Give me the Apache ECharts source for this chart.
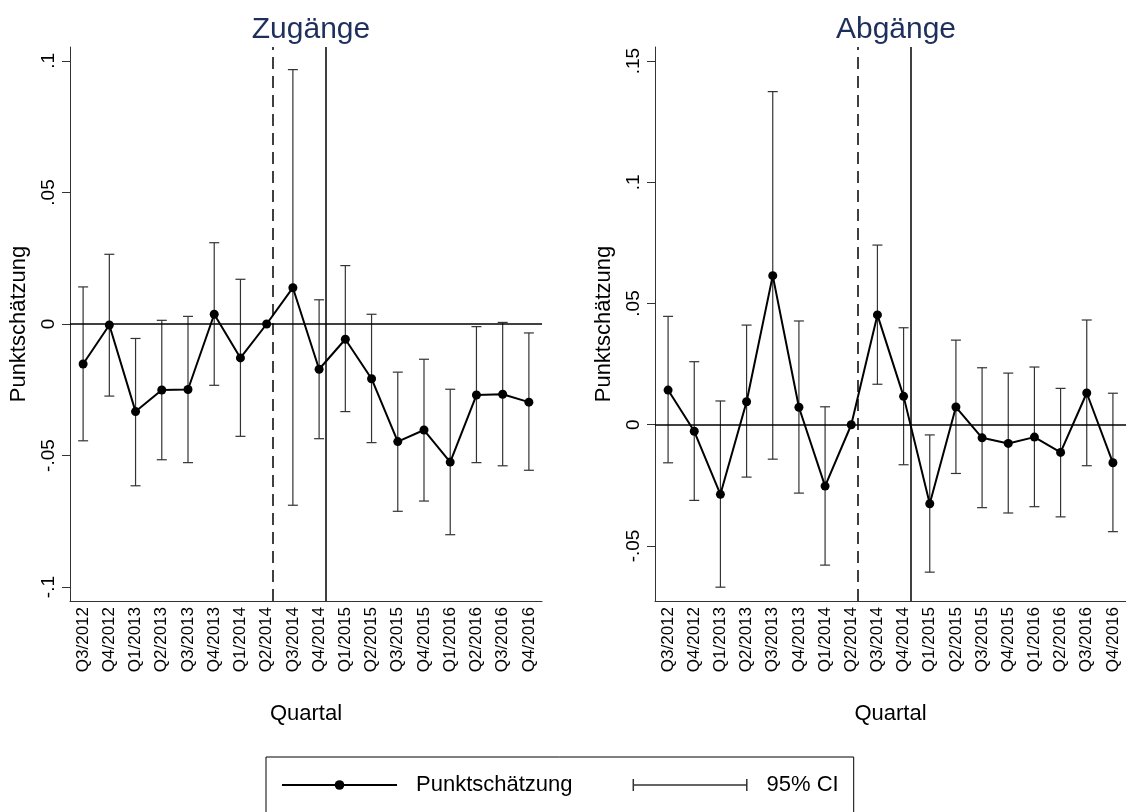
<!DOCTYPE html>
<html><head><meta charset="utf-8">
<script src="https://cdn.jsdelivr.net/npm/echarts@6/dist/echarts.min.js"></script>
<style>html,body{margin:0;padding:0;background:#fff}#c{width:1126px;height:812px}</style>
</head><body><div id="c"></div>
<script>
const quarters = ["Q3/2012","Q4/2012","Q1/2013","Q2/2013","Q3/2013","Q4/2013","Q1/2014","Q2/2014","Q3/2014","Q4/2014","Q1/2015","Q2/2015","Q3/2015","Q4/2015","Q1/2016","Q2/2016","Q3/2016","Q4/2016"];

const zugPoint = [-0.0152,-0.0004,-0.0333,-0.0251,-0.0249,0.0037,-0.0129,0,0.0138,-0.0172,-0.0058,-0.0208,-0.0447,-0.0403,-0.0525,-0.0270,-0.0267,-0.0297];
const zugHigh  = [0.0141,0.0265,-0.0055,0.0014,0.0029,0.0309,0.0170,null,0.0967,0.0092,0.0222,0.0037,-0.0183,-0.0134,-0.0248,-0.0010,0.0006,-0.0034];
const zugLow   = [-0.0444,-0.0274,-0.0615,-0.0516,-0.0527,-0.0233,-0.0427,null,-0.0689,-0.0436,-0.0333,-0.0451,-0.0712,-0.0673,-0.0801,-0.0527,-0.0539,-0.0556];

const abgPoint = [0.0143,-0.0027,-0.0287,0.0095,0.0615,0.0072,-0.0253,0,0.0453,0.0117,-0.0326,0.0073,-0.0054,-0.0077,-0.0051,-0.0114,0.0131,-0.0157];
const abgHigh  = [0.0447,0.0260,0.0098,0.0411,0.1374,0.0428,0.0074,null,0.0741,0.0400,-0.0042,0.0349,0.0235,0.0213,0.0238,0.0150,0.0432,0.0130];
const abgLow   = [-0.0157,-0.0312,-0.0670,-0.0216,-0.0142,-0.0282,-0.0579,null,0.0167,-0.0165,-0.0608,-0.0201,-0.0342,-0.0364,-0.0338,-0.0380,-0.0169,-0.0441];

const zugTicks = [-0.1,-0.05,0,0.05,0.1];
const zugTickLabels = ["-.1","-.05","0",".05",".1"];
const abgTicks = [-0.05,0,0.05,0.1,0.15];
const abgTickLabels = ["-.05","0",".05",".1",".15"];

const zugRange = [-0.1053, 0.1053];
const abgRange = [-0.0727, 0.1558];

const dashedLineX = 7.25;
const solidLineX = 9.26;

const titles = ["Zugänge","Abgänge"];

const FONT = "'Liberation Sans', Arial, sans-serif";
const chart = echarts.init(document.getElementById('c'), null, {renderer:'canvas'});

function labelFmt(ticks, labels){
  return function(v){
    for (let i=0;i<ticks.length;i++){ if (Math.abs(ticks[i]-v) < 1e-9) return labels[i]; }
    return '';
  };
}

const grids = [{left:70, top:47, width:472, height:554},{left:655, top:47, width:471, height:554}];

function xAxes(g){
  return [
    {type:'category', gridIndex:g, data:quarters, boundaryGap:true, position:'bottom',
     axisLine:{onZero:false, lineStyle:{color:'#333', width:1}},
     axisTick:{alignWithLabel:true, length:8, lineStyle:{color:'#333'}},
     axisLabel:{rotate:90, interval:0, fontSize:17, color:'#000', fontFamily:FONT, margin:6},
     splitLine:{show:false},
     name:'Quartal', nameLocation:'middle', nameGap:102,
     nameTextStyle:{fontSize:22, color:'#000', fontFamily:FONT}},
    {type:'value', gridIndex:g, min:-0.5, max:17.5, show:false, axisLine:{onZero:false}}
  ];
}
function yAxis(g, range, ticks, labels){
  return {type:'value', gridIndex:g, min:range[0], max:range[1], position:'left',
    axisLine:{show:true, onZero:false, lineStyle:{color:'#333', width:1}},
    axisTick:{show:true, length:8, customValues:ticks, lineStyle:{color:'#333'}},
    axisLabel:{show:true, rotate:90, customValues:ticks, formatter:labelFmt(ticks, labels),
      fontSize:19, color:'#000', fontFamily:FONT, margin:12},
    splitLine:{show:false},
    name:'Punktschätzung', nameLocation:'middle', nameRotate:90, nameGap:40,
    nameTextStyle:{fontSize:22, color:'#000', fontFamily:FONT}};
}

function ciRender(params, api){
  const x = api.value(0);
  const lo = api.coord([x, api.value(1)]);
  const hi = api.coord([x, api.value(2)]);
  const w = 5;
  const st = {stroke:'#333', lineWidth:1.2};
  return {type:'group', children:[
    {type:'line', shape:{x1:lo[0], y1:lo[1], x2:hi[0], y2:hi[1]}, style:st},
    {type:'line', shape:{x1:lo[0]-w, y1:lo[1], x2:lo[0]+w, y2:lo[1]}, style:st},
    {type:'line', shape:{x1:hi[0]-w, y1:hi[1], x2:hi[0]+w, y2:hi[1]}, style:st}
  ]};
}

function seriesFor(g, pts, lows, highs){
  const ci = [];
  lows.forEach((l,i)=>{ if (l!==null && highs[i]!==null) ci.push([i, l, highs[i]]); });
  return [
    {type:'custom', name:'95% CI', xAxisIndex:g*2+1, yAxisIndex:g, renderItem:ciRender,
     data:ci, encode:{x:0, y:[1,2]}, itemStyle:{color:'#333'}, z:2, silent:true},
    {type:'line', name:'Punktschätzung', xAxisIndex:g*2+1, yAxisIndex:g,
     data:pts.map((v,i)=>[i,v]), symbol:'circle', symbolSize:9, showSymbol:true,
     itemStyle:{color:'#000'}, lineStyle:{color:'#000', width:2}, z:3, silent:true,
     markLine:{silent:true, symbol:'none', label:{show:false}, animation:false,
       data:[
         {yAxis:0, lineStyle:{color:'#000', width:1.5, type:'solid'}},
         {xAxis:dashedLineX, lineStyle:{color:'#000', width:1.5, type:[12,7]}},
         {xAxis:solidLineX, lineStyle:{color:'#000', width:1.5, type:'solid'}}
       ]}}
  ];
}

const option = {
  animation:false,
  backgroundColor:'#fff',
  title:[
    {text:titles[0], left:306, top:10, textAlign:'center', textStyle:{fontSize:30, fontWeight:'normal', color:'#1e2f5c', fontFamily:FONT}},
    {text:titles[1], left:891, top:10, textAlign:'center', textStyle:{fontSize:30, fontWeight:'normal', color:'#1e2f5c', fontFamily:FONT}}
  ],
  grid:grids,
  xAxis:[...xAxes(0), ...xAxes(1)],
  yAxis:[yAxis(0, zugRange, zugTicks, zugTickLabels), yAxis(1, abgRange, abgTicks, abgTickLabels)],
  legend:{left:266, top:757, orient:'horizontal', borderColor:'#000', borderWidth:1,
    padding:[17, 15, 40, 15], itemWidth:115, itemHeight:12, itemGap:60,
    textStyle:{fontSize:22, color:'#000', fontFamily:FONT, padding:[0,0,0,14]},
    data:[{name:'Punktschätzung'},
          {name:'95% CI', icon:'path://M0,0h1.5v12h-1.5z M0,5.25h115v1.5h-115z M113.5,0h1.5v12h-1.5z', itemStyle:{color:'#333'}}]},
  series:[...seriesFor(0, zugPoint, zugLow, zugHigh), ...seriesFor(1, abgPoint, abgLow, abgHigh)]
};
chart.setOption(option);
</script></body></html>
